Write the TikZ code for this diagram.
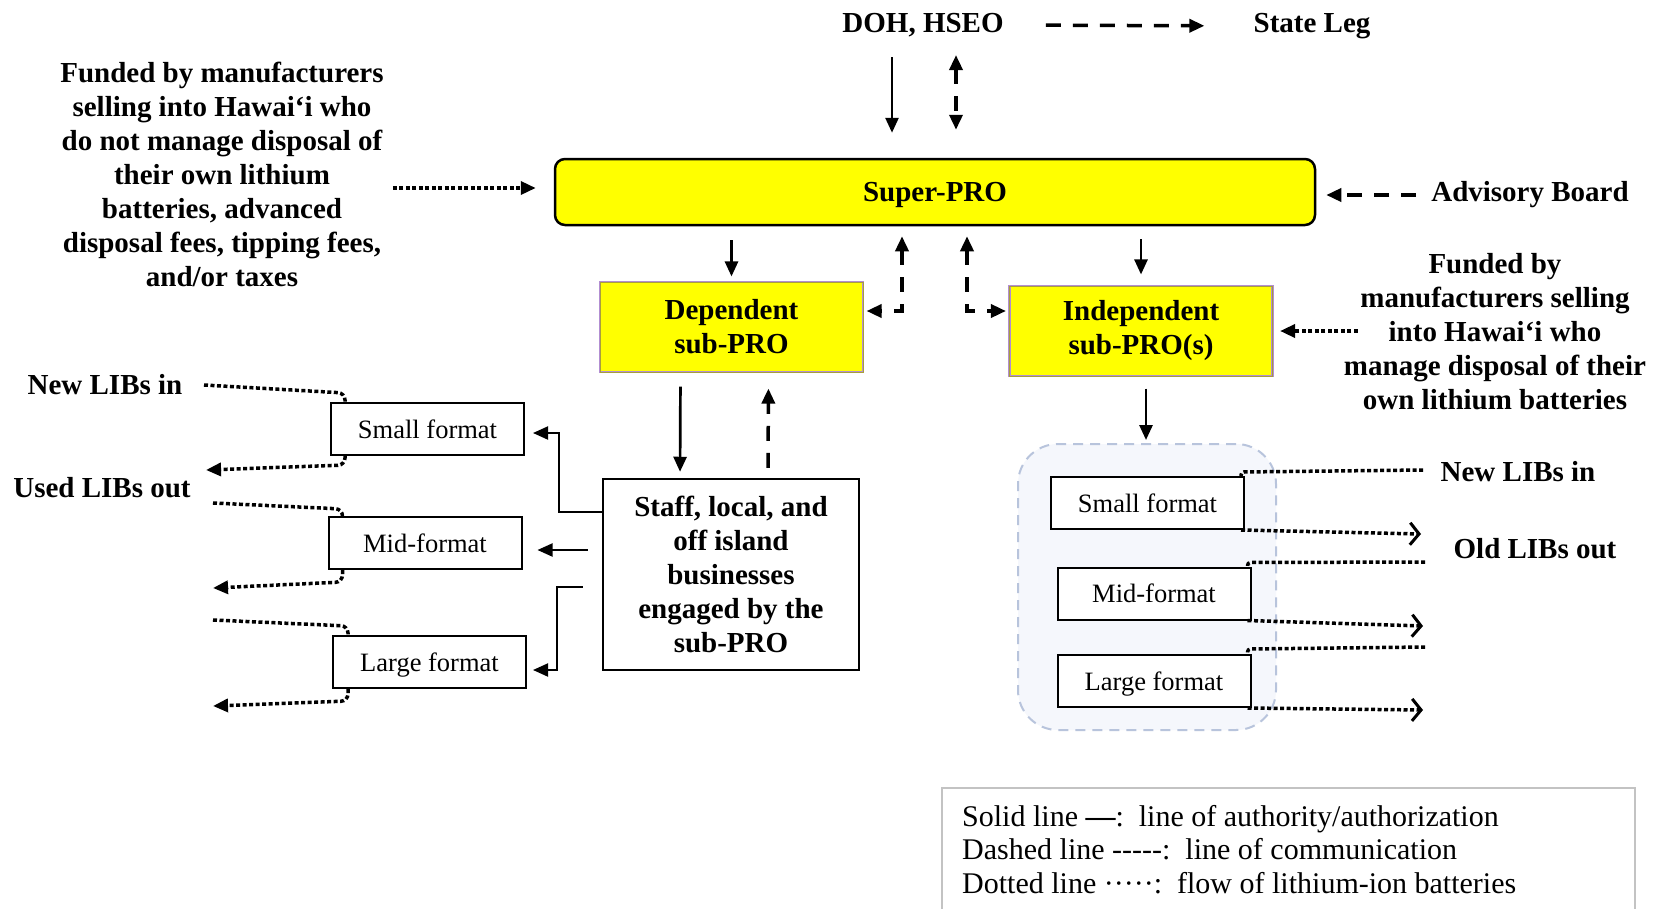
\documentclass[tikz,border=0pt]{standalone}
\usepackage{fontspec}
\setmainfont{Liberation Serif}
\usetikzlibrary{arrows.meta,calc}

\definecolor{proyellow}{RGB}{255,255,0}
\definecolor{subborder}{RGB}{178,142,210}
\definecolor{subinner}{RGB}{168,158,60}
\definecolor{groupfill}{RGB}{245,247,252}
\definecolor{groupdraw}{RGB}{184,196,220}
\definecolor{legendgray}{RGB}{195,195,195}

\begin{document}
\begin{tikzpicture}[x=1pt,y=-1pt,
  >={Triangle[length=15pt,width=13pt]},
  lbl/.style={font=\fontsize{29}{34}\selectfont\bfseries, align=center, inner sep=0pt},
  superbox/.style={lbl, fill=proyellow, draw=black, line width=2.5pt, rounded corners=10pt,
    minimum width=760pt, minimum height=66pt, text depth=0pt},
  subpro/.style={lbl, fill=proyellow, draw=subborder, line width=1.1pt, double=subinner,
    double distance=0.7pt, minimum width=263pt, minimum height=90pt},
  staffbox/.style={lbl, fill=white, draw=black, line width=2.5pt,
    minimum width=256pt, minimum height=191pt},
  fmt/.style={font=\fontsize{26.5}{30}\selectfont, draw=black, fill=white, line width=2pt,
    minimum width=193pt, minimum height=52pt, inner sep=0pt, text depth=0pt},
  groupbox/.style={fill=groupfill, draw=groupdraw, line width=2pt, dash pattern=on 10pt off 7pt,
    rounded corners=40pt, minimum width=258pt, minimum height=286pt},
  auth/.style={line width=2.7pt},
  thinauth/.style={line width=2pt},
  comm/.style={line width=3.5pt, dash pattern=on 15pt off 12pt},
  flow/.style={line width=3.5pt, dash pattern=on 4pt off 2.5pt},
  barb/.style={-{Straight Barb[length=9pt,width=22pt,line width=3pt]}},
  legendframe/.style={draw=legendgray, line width=1.8pt, fill=white},
  legendtext/.style={font=\fontsize{30}{33.5}\selectfont, align=left, inner sep=0pt}
]
\fill[white] (0,0) rectangle (1659,908);
\useasboundingbox (0,0) rectangle (1659,908);

% ---------- top: authorities ----------
\node[lbl] (doh) at (923,25) {DOH, HSEO};
\node[lbl] (stateleg) at (1312,26) {State Leg};
\draw[comm,->,shorten <=42pt,shorten >=49pt] (doh.east) -- (stateleg.west);

% ---------- Super-PRO ----------
\node[superbox] (superpro) at (935,192) {Super-PRO};
\draw[auth,->,shorten <=20pt,shorten >=25pt] ([xshift=-31pt]doh.south) -- ([xshift=-43pt]superpro.north);
\draw[comm,<->,shorten <=18pt,shorten >=28pt] ([xshift=33pt]doh.south) -- ([xshift=21pt]superpro.north);

\node[lbl] (advisory) at (1530,195) {Advisory Board};
\draw[comm,->,shorten <=15pt,shorten >=10pt] (advisory.west) -- (superpro.east |- advisory.west);

\node[lbl] (fundleft) at (222,174) {Funded by manufacturers\\selling into Hawai‘i who\\do not manage disposal of\\their own lithium\\batteries, advanced\\disposal fees, tipping fees,\\and/or taxes};
\draw[flow,->,shorten <=9pt,shorten >=18pt] (fundleft.east |- 0,188) -- (superpro.west |- 0,188);

% ---------- sub-PROs ----------
\node[subpro] (dep) at (731.5,327) {Dependent\\sub-PRO};
\node[subpro] (indep) at (1141,331) {Independent\\sub-PRO(s)};

\draw[auth,->,shorten <=14pt,shorten >=5pt] (superpro.south -| dep.north) -- (dep.north);
\draw[auth,->,shorten <=13pt,shorten >=11pt] (superpro.south -| indep.north) -- (indep.north);
\draw[comm,<->,shorten <=10pt,shorten >=3pt] ([xshift=-33pt]superpro.south) |- ([yshift=16pt]dep.east);
\draw[comm,<->,shorten <=10pt,shorten >=3pt] ([xshift=32pt]superpro.south) |- ([yshift=20pt]indep.west);

\node[lbl] (fundright) at (1495,332) {Funded by\\manufacturers selling\\into Hawai‘i who\\manage disposal of their\\own lithium batteries};
\draw[flow,->,shorten >=7pt] ([xshift=14pt]fundright.west |- indep.east) -- (indep.east);

% ---------- dependent branch ----------
\node[staffbox] (staff) at (731,574.5) {Staff, local, and\\off island\\businesses\\engaged by the\\sub-PRO};
\draw[auth,->,shorten <=14pt,shorten >=6pt] ([xshift=-51pt]dep.south) -- ([xshift=-51pt]staff.north);
\draw[comm,->,shorten <=10pt,shorten >=16pt] ([xshift=37pt]staff.north) -- ([xshift=37pt]dep.south);

\node[fmt] (lsmall) at (427.5,429) {Small format};
\node[fmt] (lmid) at (425,543) {Mid-format};
\node[fmt] (llarge) at (429.5,662) {Large format};

\draw[thinauth,->,shorten >=8pt] ([yshift=63pt]staff.west) -- ++(-43,0) |- ([yshift=-4pt]lsmall.east);
\draw[thinauth,->,shorten <=14pt,shorten >=15pt] ($(staff.west |- lmid.east)+(0,7)$) -- ($(lmid.east)+(0,7)$);
\draw[thinauth,->,shorten <=19pt,shorten >=6pt] ([yshift=-12.5pt]staff.west) -- ++(-45,0) |- ([yshift=-8pt]llarge.east);

\node[lbl] (newinL) at (105,385) {New LIBs in};
\node[lbl] (usedout) at (102,488) {Used LIBs out};

\coordinate (inS) at (204,385);
\coordinate (outS) at (206,470);
\coordinate (inM) at (213,503);
\coordinate (outM) at (213,588);
\coordinate (inL) at (213,620);
\coordinate (outL) at (213,706);

\draw[flow,rounded corners=7pt] (inS) -- ([xshift=15pt,yshift=9pt]lsmall.north west) -- ([xshift=15pt]lsmall.north west);
\draw[flow,->,rounded corners=7pt] ([xshift=15pt]lsmall.south west) -- ([xshift=15pt,yshift=-9pt]lsmall.south west) -- (outS);
\draw[flow,rounded corners=7pt] (inM) -- ([xshift=15pt,yshift=7pt]lmid.north west) -- ([xshift=15pt]lmid.north west);
\draw[flow,->,rounded corners=7pt] ([xshift=15pt]lmid.south west) -- ([xshift=15pt,yshift=-12pt]lmid.south west) -- (outM);
\draw[flow,rounded corners=7pt] (inL) -- ([xshift=16pt,yshift=9pt]llarge.north west) -- ([xshift=16pt]llarge.north west);
\draw[flow,->,rounded corners=7pt] ([xshift=16pt]llarge.south west) -- ([xshift=16pt,yshift=-12pt]llarge.south west) -- (outL);

% ---------- independent branch ----------
\node[groupbox] (group) at (1147,587) {};
\draw[auth,->,shorten <=12pt,shorten >=3pt] ([xshift=5pt]indep.south) -- ([xshift=5pt]indep.south |- group.north);

\node[fmt] (rsmall) at (1147.5,503) {Small format};
\node[fmt] (rmid) at (1154,593.5) {Mid-format};
\node[fmt] (rlarge) at (1154,681) {Large format};

\node[lbl] (newinR) at (1518,472) {New LIBs in};
\node[lbl] (oldout) at (1535,549) {Old LIBs out};

\coordinate (inRS) at (1423,470);
\coordinate (outRS) at (1421,534);
\coordinate (inRM) at (1425,562);
\coordinate (outRM) at (1423,626);
\coordinate (inRL) at (1425,647);
\coordinate (outRL) at (1423,710);

\draw[flow,rounded corners=3pt] (inRS) -- ([xshift=-4pt,yshift=4pt]rsmall.north east) -- ([xshift=-4pt]rsmall.north east);
\draw[flow,barb] ([xshift=-4pt]rsmall.south east) -- (outRS);
\draw[flow,rounded corners=3pt] (inRM) -- ([xshift=-4pt,yshift=4pt]rmid.north east) -- ([xshift=-4pt]rmid.north east);
\draw[flow,barb] ([xshift=-4pt]rmid.south east) -- (outRM);
\draw[flow,rounded corners=3pt] (inRL) -- ([xshift=-4pt,yshift=5pt]rlarge.north east) -- ([xshift=-4pt]rlarge.north east);
\draw[flow,barb] ([xshift=-4pt]rlarge.south east) -- (outRL);

% ---------- legend ----------
\node[legendframe, anchor=north west, minimum width=693pt, minimum height=140pt] (legend) at (941,787) {};
\node[legendtext, anchor=north west] (legendtxt) at ([shift={(21pt,-18pt)}]legend.north west)
  {Solid line {\bfseries —}:~~line of authority/authorization\\
   Dashed line -{}-{}-{}-{}-:~~line of communication\\
   Dotted line ·····:~~flow of lithium-ion batteries};
\end{tikzpicture}
\end{document}
